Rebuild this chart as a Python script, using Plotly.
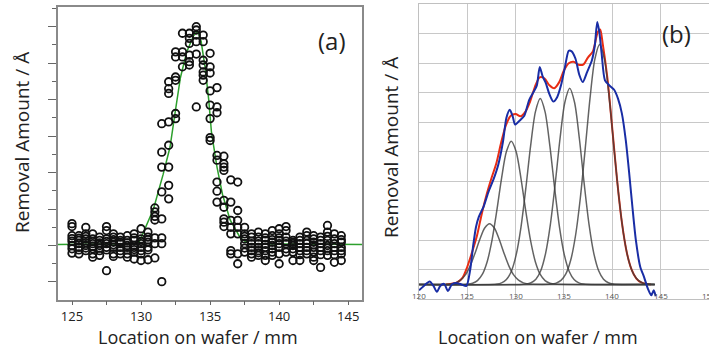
import plotly.graph_objects as go

# ---------------- Panel (a): scatter of removal amount + fitted profile ----------------
pos_a = (
    [125.0]*8 + [125.5]*7 + [126.0]*8 + [126.5]*8 + [127.0]*7 + [127.5]*8 +
    [128.0]*8 + [128.5]*7 + [129.0]*8 + [129.5]*8 + [130.0]*8 + [130.5]*7 +
    [131.0]*7 + [131.5]*8 + [132.0]*8 + [132.5]*6 + [133.0]*4 + [133.5]*6 +
    [134.0]*6 + [134.5]*7 + [135.0]*8 + [135.5]*8 + [136.0]*9 + [136.5]*7 +
    [137.0]*7 + [137.5]*7 + [138.0]*8 + [138.5]*8 + [139.0]*8 + [139.5]*8 +
    [140.0]*8 + [140.5]*7 + [141.0]*7 + [141.5]*7 + [142.0]*7 + [142.5]*8 +
    [143.0]*7 + [143.5]*8 + [144.0]*7 + [144.5]*7
)
removal_a = [
    0.60, 0.52, 0.27, 0.19, 0.12, 0.0, -0.09, -0.21,
    0.27, 0.20, 0.14, 0.05, -0.05, -0.12, -0.23,
    0.50, 0.32, 0.25, 0.18, 0.08, 0.0, -0.07, -0.14,
    0.32, 0.18, 0.11, 0.05, -0.02, -0.09, -0.23, -0.32,
    0.23, 0.14, 0.07, 0.0, -0.07, -0.14, -0.27,
    0.52, 0.41, 0.18, 0.11, 0.05, -0.05, -0.12, -0.69,
    0.32, 0.23, 0.16, 0.09, 0.02, -0.05, -0.23, -0.30,
    0.23, 0.14, 0.09, 0.05, -0.05, -0.14, -0.23,
    0.27, 0.14, 0.07, 0.0, -0.05, -0.12, -0.23, -0.32,
    0.32, 0.21, 0.14, 0.0, -0.05, -0.11, -0.18, -0.37,
    0.46, 0.18, 0.11, 0.05, -0.05, -0.14, -0.23, -0.41,
    0.37, 0.23, 0.16, 0.09, -0.05, -0.12, -0.39,
    1.03, 0.92, 0.80, 0.70, 0.21, 0.05, -0.34,
    3.34, 2.56, 2.15, 1.47, 0.73, 0.21, 0.05, -0.99,
    4.49, 4.30, 4.17, 3.39, 2.75, 2.15, 1.65, 1.28,
    5.31, 5.17, 4.62, 4.53, 3.62, 3.48,
    5.82, 5.31, 5.17, 4.90,
    5.82, 5.68, 5.54, 5.22, 5.04, 4.95,
    6.00, 5.91, 5.77, 5.59, 5.25, 3.80,
    5.77, 5.59, 5.08, 4.95, 4.76, 4.67, 4.53,
    5.27, 4.90, 4.73, 4.24, 3.85, 3.48, 2.96, 2.88,
    4.33, 3.80, 3.64, 2.47, 2.34, 1.74, 1.49, 1.19,
    2.45, 2.24, 2.15, 2.06, 1.24, 1.05, 0.73, 0.64, 0.52,
    1.80, 1.19, 0.69, 0.50, 0.32, -0.14, -0.23,
    1.74, 0.96, 0.69, 0.50, 0.32, -0.23, -0.50,
    0.50, 0.32, 0.25, 0.18, 0.05, -0.07, -0.18,
    0.32, 0.23, 0.12, 0.05, -0.05, -0.14, -0.23, -0.32,
    0.37, 0.23, 0.12, 0.05, -0.05, -0.14, -0.20, -0.27,
    0.32, 0.21, 0.14, 0.03, -0.05, -0.14, -0.27, -0.41,
    0.41, 0.27, 0.16, 0.09, 0.0, -0.09, -0.18, -0.27,
    0.46, 0.32, 0.21, 0.14, 0.05, -0.05, -0.23, -0.50,
    0.52, 0.41, 0.23, 0.12, 0.05, -0.09, -0.18,
    0.14, 0.09, 0.05, 0.0, -0.09, -0.18, -0.41,
    0.23, 0.14, 0.05, -0.05, -0.14, -0.25, -0.41,
    0.37, 0.27, 0.14, 0.05, -0.05, -0.14, -0.23,
    0.27, 0.18, 0.09, 0.02, -0.05, -0.18, -0.32, -0.41,
    0.23, 0.14, 0.05, -0.05, -0.14, -0.25, -0.60,
    0.55, 0.37, 0.25, 0.14, 0.0, -0.07, -0.14, -0.27,
    0.32, 0.18, 0.05, -0.05, -0.14, -0.25, -0.46,
    0.27, 0.16, 0.09, -0.05, -0.14, -0.23, -0.41,
]
fit_x = [123.9, 129.8, 130.1, 130.9, 131.6, 132.1, 132.45, 132.85, 133.3, 133.8, 134.1,
         134.35, 134.65, 134.9, 135.1, 135.5, 135.9, 136.45, 137.2, 137.8, 146.1]
fit_y = [0.03, 0.05, 0.3, 1.0, 1.95, 2.7, 3.6, 4.6, 5.3, 5.75, 5.88,
         5.6, 4.85, 4.0, 3.1, 2.15, 1.4, 0.7, 0.2, 0.05, 0.03]
ticks_a = [125, 130, 135, 140, 145]

# ---------------- Panel (b): measured profile, fitted sum, component peaks ----------------
meas_x = [120.0, 120.5, 121.1, 121.5, 121.85, 122.2, 122.6, 123.0, 123.4, 123.8, 124.4, 124.9,
          125.3, 125.6, 125.9, 126.2, 126.7, 127.2, 127.7, 128.2, 128.7, 129.05, 129.4, 129.7,
          129.95, 130.4, 130.9, 131.4, 131.9, 132.2, 132.5, 132.8, 133.1, 133.5, 133.9, 134.3,
          134.7, 135.1, 135.5, 135.8, 136.2, 136.6, 136.95, 137.4, 137.9, 138.2, 138.45, 138.65,
          138.9, 139.25, 139.7, 140.2, 140.6, 141.0, 141.4, 141.75, 142.1, 142.45, 142.9, 143.3,
          143.7, 144.05, 144.3, 144.5]
meas_y = [-0.2, -0.05, 0.1, -0.05, -0.25, -0.05, 0.02, -0.22, 0.0, 0.05, 0.0, -0.05,
          0.5, 1.3, 1.95, 2.3, 2.65, 3.15, 3.55, 4.05, 4.85, 5.65, 5.92, 5.7,
          5.42, 5.55, 5.72, 6.25, 6.55, 6.75, 7.37, 7.05, 6.85, 6.45, 6.2, 6.35,
          6.75, 7.35, 7.92, 7.9, 7.65, 7.1, 6.86, 7.2, 7.6, 8.1, 8.9, 8.6,
          7.85, 6.92, 6.75, 6.6, 6.3, 5.8, 4.9, 3.8, 2.6, 1.5, 0.6, 0.25,
          -0.15, -0.37, -0.2, -0.4]
sum_x = [122.8, 123.5, 124.0, 124.5, 125.0, 125.5, 126.0, 126.5, 127.0, 127.5, 128.0, 128.5,
         129.0, 129.5, 130.0, 130.5, 131.0, 131.5, 132.0, 132.5, 133.0, 133.5, 134.0, 134.5,
         135.0, 135.5, 136.0, 136.5, 137.0, 137.5, 138.0, 138.5, 138.75, 139.0, 139.5, 140.0,
         140.5, 141.0, 141.5, 142.0, 142.5, 143.0, 143.5, 144.0]
sum_y = [0.0, 0.03, 0.08, 0.22, 0.6, 1.1, 1.65, 2.4, 3.05, 3.6, 4.1, 4.8,
         5.4, 5.72, 5.78, 5.70, 5.85, 6.2, 6.7, 7.02, 6.98, 6.75, 6.65, 6.85,
         7.25, 7.5, 7.55, 7.45, 7.45, 7.7, 7.9, 8.55, 8.64, 8.2, 7.0, 5.31,
         3.56, 2.11, 1.10, 0.51, 0.20, 0.07, 0.02, 0.0]
peak1_x = [120.0, 122.8, 123.3, 123.8, 124.3, 124.8, 125.3, 125.8, 126.3, 126.8, 127.3,
           127.8, 128.3, 128.8, 129.3, 129.8, 130.3, 130.8, 131.3, 131.8, 144.4]
peak1_y = [0, 0.005, 0.018, 0.055, 0.144, 0.324, 0.631, 1.059, 1.532, 1.913, 2.060,
           1.913, 1.532, 1.059, 0.631, 0.324, 0.144, 0.055, 0.018, 0.005, 0]
peak2_x = [120.0, 125.05, 125.55, 126.05, 126.55, 127.05, 127.55, 128.05, 128.55, 129.05, 129.55,
           130.05, 130.55, 131.05, 131.55, 132.05, 132.55, 133.05, 133.55, 134.05, 144.4]
peak2_y = [0, 0.012, 0.043, 0.129, 0.339, 0.763, 1.485, 2.492, 3.608, 4.504, 4.850,
           4.504, 3.608, 2.492, 1.485, 0.763, 0.339, 0.129, 0.043, 0.012, 0]
peak3_x = [120.0, 128.05, 128.55, 129.05, 129.55, 130.05, 130.55, 131.05, 131.55, 132.05, 132.55,
           133.05, 133.55, 134.05, 134.55, 135.05, 135.55, 136.05, 136.55, 137.05, 144.4]
peak3_y = [0, 0.016, 0.055, 0.168, 0.440, 0.992, 1.929, 3.238, 4.687, 5.851, 6.300,
           5.851, 4.687, 3.238, 1.929, 0.992, 0.440, 0.168, 0.055, 0.016, 0]
peak4_x = [120.0, 131.1, 131.6, 132.1, 132.6, 133.1, 133.6, 134.1, 134.6, 135.1, 135.6,
           136.1, 136.6, 137.1, 137.6, 138.1, 138.6, 139.1, 139.6, 140.1, 144.4]
peak4_y = [0, 0.017, 0.059, 0.178, 0.464, 1.047, 2.036, 3.417, 4.947, 6.176, 6.650,
           6.176, 4.947, 3.417, 2.036, 1.047, 0.464, 0.178, 0.059, 0.017, 0]
peak5_x = [120.0, 133.7, 134.2, 134.7, 135.2, 135.7, 136.2, 136.7, 137.2, 137.7, 138.2, 138.7,
           139.2, 139.7, 140.2, 140.7, 141.2, 141.7, 142.2, 142.7, 143.2, 143.7, 144.4]
peak5_y = [0, 0.014, 0.046, 0.137, 0.357, 0.819, 1.651, 2.932, 4.579, 6.300, 7.628, 8.130,
           7.628, 6.300, 4.579, 2.932, 1.651, 0.819, 0.357, 0.137, 0.046, 0.014, 0]
ticks_b = [120, 125, 130, 135, 140, 145, 150]

FONT = "Open Sans"
W, H = 709, 350

fig = go.Figure()

# panel (a)
fig.add_trace(go.Scatter(x=fit_x, y=fit_y, mode="lines", xaxis="x", yaxis="y",
                         line=dict(color="rgb(45,160,45)", width=1.5), hoverinfo="skip"))
fig.add_trace(go.Scatter(x=pos_a, y=removal_a, mode="markers", xaxis="x", yaxis="y",
                         marker=dict(symbol="circle-open", size=7.5, color="#111",
                                     line=dict(width=1.8, color="#111"))))

# panel (b)
fig.add_trace(go.Scatter(x=sum_x, y=sum_y, mode="lines", xaxis="x2", yaxis="y2",
                         line=dict(color="rgb(232,45,20)", width=2, shape="spline", smoothing=0.8)))
for px_, py_ in [(peak1_x, peak1_y), (peak2_x, peak2_y), (peak3_x, peak3_y),
                 (peak4_x, peak4_y), (peak5_x, peak5_y)]:
    fig.add_trace(go.Scatter(x=px_, y=py_, mode="lines", xaxis="x2", yaxis="y2",
                             line=dict(color="rgba(60,60,60,0.8)", width=1.5,
                                       shape="spline", smoothing=0.8)))
fig.add_trace(go.Scatter(x=meas_x, y=meas_y, mode="lines", xaxis="x2", yaxis="y2",
                         line=dict(color="rgb(25,45,165)", width=2, shape="spline", smoothing=0.7)))

axis_line = "#8a8a8a"
fig.update_layout(
    width=W, height=H, margin=dict(l=0, r=0, t=0, b=0),
    paper_bgcolor="white", plot_bgcolor="white", showlegend=False,
    font=dict(family=FONT, color="#222"),
    xaxis=dict(domain=[57.5 / W, 362 / W], range=[123.95, 146.0],
               showline=True, mirror=True, linecolor=axis_line, linewidth=1.5,
               showgrid=False, zeroline=False,
               tickvals=ticks_a, ticks="outside", ticklen=4, tickcolor="#666",
               tickfont=dict(size=13, color="#222", family=FONT),
               minor=dict(tick0=125, dtick=2.5, ticks="outside", ticklen=4, tickcolor="#666")),
    yaxis=dict(domain=[(H - 299.5) / H, (H - 7) / H], range=[-1.48, 6.54],
               showline=True, mirror=True, linecolor=axis_line, linewidth=1.5,
               showgrid=False, zeroline=False, showticklabels=False,
               tick0=0, dtick=1, ticks="outside", ticklen=8, tickcolor="#666",
               minor=dict(tick0=0, dtick=0.5, ticks="outside", ticklen=4, tickcolor="#666")),
    xaxis2=dict(domain=[419 / W, 1.0], range=[120, 150.02], anchor="y2",
                showline=True, mirror=True, linecolor="#c0c0c0", linewidth=1.3,
                showgrid=True, gridcolor="#c8c8c8", gridwidth=1.3,
                tick0=120, dtick=5, showticklabels=False, ticks="", zeroline=False),
    yaxis2=dict(domain=[(H - 299.2) / H, (H - 4.2) / H], range=[-0.5, 9.5], anchor="x2",
                showline=True, linecolor="#c0c0c0", linewidth=1.3,
                showgrid=True, gridcolor="#c8c8c8", gridwidth=1.3,
                tick0=0.5, dtick=1, showticklabels=False, ticks="", zeroline=False),
)

ann = []
for t in ticks_b:
    ann.append(dict(x=t, y=-0.37, xref="x2", yref="y2", text=str(t), showarrow=False,
                    xanchor="center", yanchor="middle",
                    font=dict(size=8, color="#555", family=FONT)))


def label(x, y, text, size, angle=0):
    return dict(x=x / W, y=(H - y) / H, xref="paper", yref="paper", text=text,
                showarrow=False, xanchor="center", yanchor="middle", textangle=angle,
                font=dict(size=size, color="#222", family=FONT))


ann += [
    label(332, 40, "(a)", 24),
    label(676, 33, "(b)", 24),
    label(22, 143, "Removal Amount / Å", 19, -90),
    label(391, 148, "Removal Amount / Å", 19, -90),
    label(197.5, 337, "Location on wafer / mm", 18),
    label(537.5, 337, "Location on wafer / mm", 18),
]
fig.update_layout(annotations=ann)

fig.write_html("out.html", config={"displayModeBar": False},
               post_script="document.body.style.margin='0px';")
